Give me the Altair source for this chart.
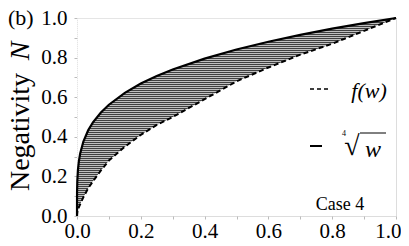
import altair as alt
import pandas as pd
import numpy as np

# ---- data ----
w_vals = [0, 0.0002, 0.001, 0.003, 0.006, 0.01, 0.02, 0.035, 0.05, 0.075, 0.1,
          0.15, 0.2, 0.25, 0.3, 0.4, 0.5, 0.6, 0.7, 0.8, 0.9, 1.0]
root4_vals = [0, 0.119, 0.178, 0.234, 0.278, 0.316, 0.376, 0.433, 0.473, 0.523, 0.562,
              0.622, 0.669, 0.707, 0.740, 0.795, 0.841, 0.880, 0.915, 0.946, 0.974, 1.0]
f_vals = [0, 0.008, 0.02, 0.03, 0.045, 0.06, 0.095, 0.14, 0.175, 0.23, 0.28,
          0.35, 0.41, 0.46, 0.50, 0.59, 0.68, 0.75, 0.815, 0.87, 0.935, 1.0]
tick_vals = [0, 0.1, 0.2, 0.3, 0.4, 0.5, 0.6, 0.7, 0.8, 0.9, 1.0]

df = pd.DataFrame({"w": w_vals, "upper": root4_vals, "lower": f_vals})

W, H = 319, 198
SERIF = "Liberation Serif"
xs = alt.Scale(domain=[0, 1], nice=False, zero=False)
ys = alt.Scale(domain=[0, 1], nice=False, zero=False)

lab_expr = "(round(datum.value*10) % 2 == 0) ? format(datum.value, '.1f') : ''"
axis_common = dict(values=tick_vals, labelExpr=lab_expr, domain=False, grid=False,
                   ticks=True, tickColor="#bbbbbb", tickSize=3, tickWidth=1,
                   labelOverlap=False, labelFlush=False, labelBound=False,
                   labelFont=SERIF, labelFontSize=21, labelColor="black", title=None)

x_axis = alt.Axis(
    labelPadding=1,
    labelAlign={"condition": {"test": "datum.value >= 0.99", "value": "right"}, "value": "center"},
    labelOffset={"condition": {"test": "datum.value >= 0.99", "value": 5}, "value": 0},
    **axis_common)
y_axis = alt.Axis(labelPadding=7, **axis_common)

XE = alt.X("w:Q", scale=xs, axis=x_axis)

base = alt.Chart(df)

area = base.mark_area(color="black", opacity=1).encode(
    x=XE,
    y=alt.Y("lower:Q", scale=ys, axis=y_axis),
    y2="upper:Q",
)

# hatching: thin white horizontal lines over the black band
hatch_df = pd.DataFrame({"level": np.arange(0.004, 1.0, 2.0 / H)})
hatch = alt.Chart(hatch_df).mark_rule(color="white", strokeWidth=1.1).encode(
    y=alt.Y("level:Q", scale=ys, axis=y_axis),
    x=alt.value(0), x2=alt.value(W),
)

upper_line = base.mark_line(color="black", strokeWidth=2.2).encode(
    x=XE, y=alt.Y("upper:Q", scale=ys, axis=y_axis))
lower_line = base.mark_line(color="black", strokeWidth=2, strokeDash=[5, 3]).encode(
    x=XE, y=alt.Y("lower:Q", scale=ys, axis=y_axis))


def txt(s, x, y, size, style="normal", angle=0, align="center", baseline="middle", font=SERIF):
    return alt.Chart(pd.DataFrame({"t": [s]})).mark_text(
        font=font, fontSize=size, fontStyle=style, angle=angle, align=align,
        baseline=baseline, color="black").encode(
        text="t:N", x=alt.value(x), y=alt.value(y))


texts = [
    txt("Negativity", -56, 114, 28, angle=270),
    txt("N", -56, 33, 28, style="italic", angle=270),
    txt("(b)", -69, 0, 22, align="left"),
    txt("f(w)", 292, 73, 22, style="italic"),
    txt("\u221a", 275, 129, 28),
    txt("4", 267, 116, 8),
    txt("w", 296, 132, 24, style="italic"),
    txt("Case 4", 263, 187, 18),
]

leg_dash = alt.Chart(pd.DataFrame({"a": [0]})).mark_rule(
    color="black", strokeWidth=1.5, strokeDash=[4, 3]).encode(
    x=alt.value(233), x2=alt.value(252), y=alt.value(71))
leg_solid = alt.Chart(pd.DataFrame({"a": [0]})).mark_rule(
    color="black", strokeWidth=2).encode(
    x=alt.value(233), x2=alt.value(245), y=alt.value(128))
vinculum = alt.Chart(pd.DataFrame({"a": [0]})).mark_rule(
    color="black", strokeWidth=1).encode(
    x=alt.value(283), x2=alt.value(309), y=alt.value(115))

chart = alt.layer(area, hatch, upper_line, lower_line, leg_dash, leg_solid, vinculum,
                  *texts).properties(
    width=W, height=H,
    padding={"left": 69, "top": 10, "right": 5, "bottom": 22},
    autosize=alt.AutoSizeParams(type="none"),
).configure_view(stroke=None).configure(background="white")

chart.save("out.html", embed_options={"renderer": "svg", "actions": False})
